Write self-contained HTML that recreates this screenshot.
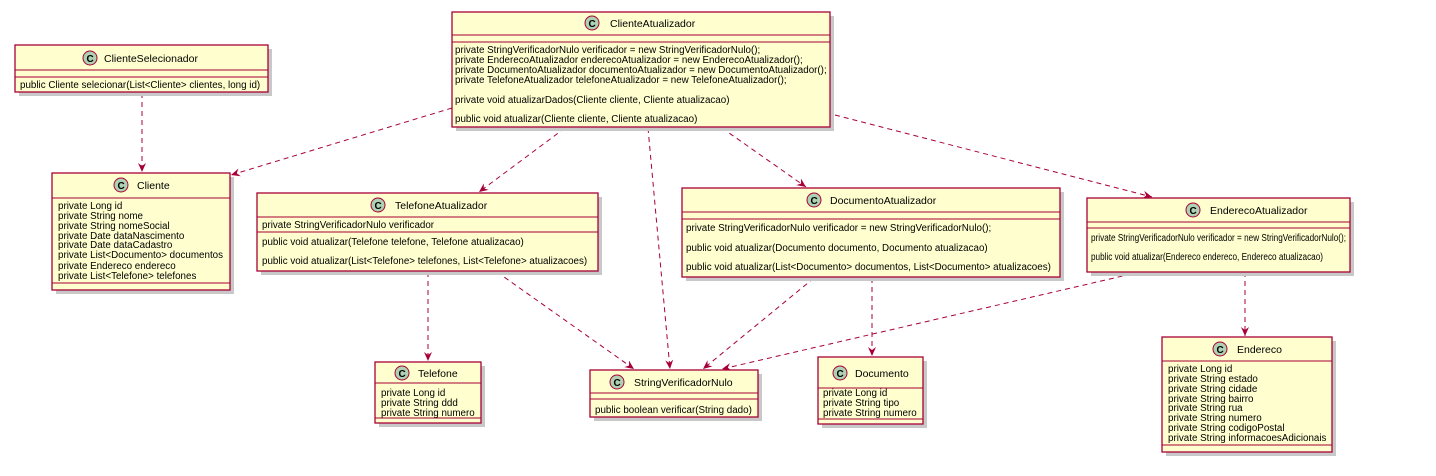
<!DOCTYPE html>
<html><head><meta charset="utf-8"><style>
html,body{margin:0;padding:0;background:#fff;}
svg{display:block;}
text{font-family:"Liberation Sans","DejaVu Sans",sans-serif;fill:#000;}
.m{font-size:9.8px;}
.t{font-size:10.5px;}
.b{fill:#FEFECE;stroke:#A80036;stroke-width:1.3;}
.l{stroke:#A80036;stroke-width:1;}
.s{fill:#c8c8c8;}
.a{stroke:#A80036;stroke-width:1;fill:none;stroke-dasharray:5,4;}
.c{fill:#ADD1B2;stroke:#A80036;stroke-width:1;}
.ct{font-size:10px;font-weight:bold;}
</style></head><body>
<svg width="1436" height="476" viewBox="0 0 1436 476" xmlns="http://www.w3.org/2000/svg">
<defs>
<marker id="ar" markerWidth="10" markerHeight="10" refX="9" refY="5" orient="auto" markerUnits="userSpaceOnUse">
<path d="M0,1 L9,5 L0,9 L3,5 Z" fill="#A80036"/>
</marker>
</defs>

<g class="a" marker-end="url(#ar)">
<line x1="142" y1="93" x2="142" y2="172"/>
<line x1="452" y1="108" x2="231" y2="175"/>
<line x1="565" y1="128" x2="479" y2="192"/>
<line x1="648" y1="128" x2="670" y2="369"/>
<line x1="722" y1="128" x2="806" y2="187"/>
<line x1="835" y1="115" x2="1152" y2="197"/>
<line x1="428" y1="272" x2="428" y2="361"/>
<line x1="497" y1="272" x2="634" y2="369"/>
<line x1="814" y1="278" x2="703" y2="369"/>
<line x1="872" y1="278" x2="872" y2="356"/>
<line x1="1140" y1="272" x2="722" y2="369"/>
<line x1="1245" y1="272" x2="1245" y2="336"/>
</g>

<rect class="s" x="19" y="49" width="253" height="47"/>
<rect class="b" x="15" y="45" width="253" height="47"/>
<line class="l" x1="15" y1="70" x2="268" y2="70"/><line class="l" x1="15" y1="77" x2="268" y2="77"/>
<circle class="c" cx="90" cy="58" r="7"/><text class="ct" x="86.5" y="62">C</text>
<text class="t" x="104" y="62">ClienteSelecionador</text>
<text class="m" x="20" y="88">public Cliente selecionar(List&lt;Cliente&gt; clientes, long id)</text>

<rect class="s" x="56" y="177" width="178" height="117"/>
<rect class="b" x="52" y="173" width="178" height="117"/>
<line class="l" x1="52" y1="198" x2="230" y2="198"/><line class="l" x1="52" y1="283" x2="230" y2="283"/>
<circle class="c" cx="121" cy="185" r="7"/><text class="ct" x="117.5" y="189">C</text>
<text class="t" x="137" y="189">Cliente</text>
<g class="m"><text x="58" y="209">private Long id</text><text x="58" y="219">private String nome</text><text x="58" y="229">private String nomeSocial</text><text x="58" y="239">private Date dataNascimento</text><text x="58" y="248">private Date dataCadastro</text><text x="58" y="258">private List&lt;Documento&gt; documentos</text><text x="58" y="269">private Endereco endereco</text><text x="58" y="279">private List&lt;Telefone&gt; telefones</text></g>

<rect class="s" x="456" y="16" width="378" height="115"/>
<rect class="b" x="452" y="12" width="378" height="115"/>
<line class="l" x1="452" y1="35" x2="830" y2="35"/><line class="l" x1="452" y1="42" x2="830" y2="42"/>
<circle class="c" cx="592" cy="23" r="7"/><text class="ct" x="588.5" y="27">C</text>
<text class="t" x="610" y="27">ClienteAtualizador</text>
<g class="m"><text x="455" y="53">private StringVerificadorNulo verificador = new StringVerificadorNulo();</text>
<text x="455" y="63">private EnderecoAtualizador enderecoAtualizador = new EnderecoAtualizador();</text>
<text x="455" y="73">private DocumentoAtualizador documentoAtualizador = new DocumentoAtualizador();</text>
<text x="455" y="83">private TelefoneAtualizador telefoneAtualizador = new TelefoneAtualizador();</text>
<text x="455" y="103">private void atualizarDados(Cliente cliente, Cliente atualizacao)</text>
<text x="455" y="122">public void atualizar(Cliente cliente, Cliente atualizacao)</text></g>

<rect class="s" x="261" y="197" width="341" height="78"/>
<rect class="b" x="257" y="193" width="341" height="78"/>
<line class="l" x1="257" y1="217" x2="598" y2="217"/><line class="l" x1="257" y1="232" x2="598" y2="232"/>
<circle class="c" cx="378" cy="205" r="7"/><text class="ct" x="374.5" y="209">C</text>
<text class="t" x="395" y="209">TelefoneAtualizador</text>
<g class="m"><text x="262" y="228">private StringVerificadorNulo verificador</text>
<text x="262" y="245">public void atualizar(Telefone telefone, Telefone atualizacao)</text>
<text x="262" y="264">public void atualizar(List&lt;Telefone&gt; telefones, List&lt;Telefone&gt; atualizacoes)</text></g>

<rect class="s" x="686" y="192" width="378" height="89"/>
<rect class="b" x="682" y="188" width="378" height="89"/>
<line class="l" x1="682" y1="212" x2="1060" y2="212"/><line class="l" x1="682" y1="219" x2="1060" y2="219"/>
<circle class="c" cx="814" cy="200" r="7"/><text class="ct" x="810.5" y="204">C</text>
<text class="t" x="830" y="204">DocumentoAtualizador</text>
<g class="m"><text x="686" y="231">private StringVerificadorNulo verificador = new StringVerificadorNulo();</text>
<text x="686" y="251">public void atualizar(Documento documento, Documento atualizacao)</text>
<text x="686" y="270">public void atualizar(List&lt;Documento&gt; documentos, List&lt;Documento&gt; atualizacoes)</text></g>

<rect class="s" x="1091" y="202" width="263" height="74"/>
<rect class="b" x="1087" y="198" width="263" height="74"/>
<line class="l" x1="1087" y1="222" x2="1350" y2="222"/><line class="l" x1="1087" y1="228" x2="1350" y2="228"/>
<circle class="c" cx="1193" cy="210" r="7"/><text class="ct" x="1189.5" y="214">C</text>
<text class="t" x="1210" y="214">EnderecoAtualizador</text>
<g class="m"><text x="1091" y="241" textLength="255" lengthAdjust="spacingAndGlyphs">private StringVerificadorNulo verificador = new StringVerificadorNulo();</text>
<text x="1091" y="260" textLength="232" lengthAdjust="spacingAndGlyphs">public void atualizar(Endereco endereco, Endereco atualizacao)</text></g>

<rect class="s" x="379" y="366" width="106" height="61"/>
<rect class="b" x="375" y="362" width="106" height="61"/>
<line class="l" x1="375" y1="383" x2="481" y2="383"/><line class="l" x1="375" y1="418" x2="481" y2="418"/>
<circle class="c" cx="402" cy="373" r="7"/><text class="ct" x="398.5" y="377">C</text>
<text class="t" x="418" y="377">Telefone</text>
<g class="m"><text x="381" y="396">private Long id</text><text x="381" y="406">private String ddd</text><text x="381" y="416">private String numero</text></g>

<rect class="s" x="594" y="374" width="168" height="47"/>
<rect class="b" x="590" y="370" width="168" height="47"/>
<line class="l" x1="590" y1="393" x2="758" y2="393"/><line class="l" x1="590" y1="399" x2="758" y2="399"/>
<circle class="c" cx="617" cy="382" r="7"/><text class="ct" x="613.5" y="386">C</text>
<text class="t" x="634" y="386">StringVerificadorNulo</text>
<text class="m" x="595" y="413">public boolean verificar(String dado)</text>

<rect class="s" x="822" y="361" width="105" height="67"/>
<rect class="b" x="818" y="357" width="105" height="67"/>
<line class="l" x1="818" y1="388" x2="923" y2="388"/><line class="l" x1="818" y1="419" x2="923" y2="419"/>
<circle class="c" cx="840" cy="373" r="7"/><text class="ct" x="836.5" y="377">C</text>
<text class="t" x="855" y="377">Documento</text>
<g class="m"><text x="823" y="396">private Long id</text><text x="823" y="406">private String tipo</text><text x="823" y="416">private String numero</text></g>

<rect class="s" x="1166" y="341" width="170" height="115"/>
<rect class="b" x="1162" y="337" width="170" height="115"/>
<line class="l" x1="1162" y1="361" x2="1332" y2="361"/><line class="l" x1="1162" y1="445" x2="1332" y2="445"/>
<circle class="c" cx="1220" cy="349" r="7"/><text class="ct" x="1216.5" y="353">C</text>
<text class="t" x="1237" y="353">Endereco</text>
<g class="m"><text x="1168" y="372">private Long id</text><text x="1168" y="382">private String estado</text><text x="1168" y="392">private String cidade</text><text x="1168" y="402">private String bairro</text><text x="1168" y="411">private String rua</text><text x="1168" y="421">private String numero</text><text x="1168" y="431">private String codigoPostal</text><text x="1168" y="441">private String informacoesAdicionais</text></g>
</svg>
</body></html>
